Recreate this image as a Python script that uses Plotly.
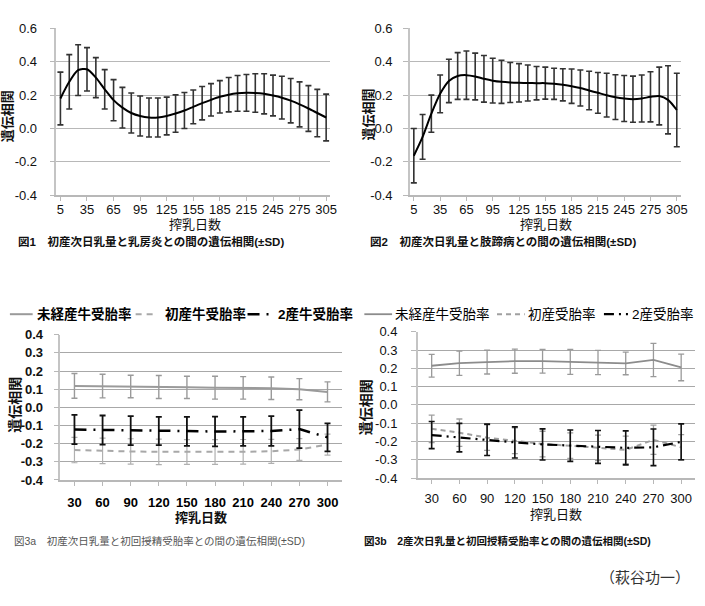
import plotly.graph_objects as go

W, H = 705, 606
FONT = "Liberation Sans, Arial, Noto Sans CJK JP"

# ---- data ----
days_a = [5, 15, 25, 35, 45, 55, 65, 75, 85, 95, 105, 115, 125, 135, 145, 155,
          165, 175, 185, 195, 205, 215, 225, 235, 245, 255, 265, 275, 285, 295, 305]
days_a_ticks = [5, 35, 65, 95, 125, 155, 185, 215, 245, 275, 305]

mastitis_r = [0.18, 0.28, 0.35, 0.355, 0.305, 0.235, 0.17, 0.125, 0.093, 0.075, 0.066,
              0.066, 0.075, 0.09, 0.108, 0.13, 0.152, 0.172, 0.19, 0.203, 0.211, 0.214,
              0.213, 0.208, 0.198, 0.185, 0.167, 0.145, 0.12, 0.093, 0.066]
mastitis_sd = [0.158, 0.163, 0.152, 0.13, 0.12, 0.118, 0.123, 0.122, 0.12, 0.12, 0.117,
               0.117, 0.113, 0.112, 0.108, 0.101, 0.1, 0.097, 0.097, 0.103, 0.107, 0.11,
               0.115, 0.12, 0.122, 0.128, 0.133, 0.135, 0.137, 0.142, 0.14]

hoof_r = [-0.163, -0.05, 0.089, 0.208, 0.285, 0.315, 0.32, 0.312, 0.298, 0.287, 0.28,
          0.276, 0.274, 0.273, 0.272, 0.272, 0.268, 0.262, 0.254, 0.243, 0.228, 0.214,
          0.2, 0.188, 0.18, 0.176, 0.18, 0.19, 0.195, 0.172, 0.111]
hoof_sd = [0.163, 0.134, 0.111, 0.113, 0.13, 0.14, 0.145, 0.14, 0.14, 0.134, 0.129,
           0.12, 0.115, 0.108, 0.1, 0.096, 0.093, 0.096, 0.103, 0.108, 0.115, 0.122,
           0.131, 0.134, 0.138, 0.138, 0.141, 0.15, 0.173, 0.204, 0.22]

days_b = [30, 60, 90, 120, 150, 180, 210, 240, 270, 300]

# fig 3a: first-lactation daily milk vs conception rates
f3a_heifer = [0.118, 0.117, 0.115, 0.112, 0.11, 0.108, 0.107, 0.105, 0.1, 0.085]
f3a_heifer_sd = [0.068, 0.065, 0.062, 0.063, 0.061, 0.063, 0.062, 0.062, 0.058, 0.055]
f3a_first = [-0.235, -0.24, -0.243, -0.245, -0.246, -0.246, -0.245, -0.242, -0.232, -0.205]
f3a_first_sd = [0.07, 0.07, 0.07, 0.07, 0.068, 0.068, 0.068, 0.066, 0.06, 0.058]
f3a_second = [-0.122, -0.125, -0.128, -0.13, -0.132, -0.133, -0.132, -0.13, -0.12, -0.165]
f3a_second_sd = [0.08, 0.08, 0.08, 0.078, 0.08, 0.082, 0.08, 0.082, 0.105, 0.077]

# fig 3b: second-lactation daily milk vs conception rates
f3b_heifer = [0.214, 0.228, 0.234, 0.239, 0.239, 0.235, 0.232, 0.227, 0.246, 0.205]
f3b_heifer_sd = [0.062, 0.066, 0.065, 0.066, 0.065, 0.068, 0.066, 0.062, 0.091, 0.073]
f3b_first = [-0.131, -0.152, -0.179, -0.196, -0.214, -0.223, -0.235, -0.246, -0.191, -0.232]
f3b_first_sd = [0.075, 0.075, 0.07, 0.07, 0.07, 0.07, 0.07, 0.075, 0.08, 0.07]
f3b_second = [-0.165, -0.179, -0.191, -0.205, -0.216, -0.223, -0.23, -0.235, -0.232, -0.202]
f3b_second_sd = [0.074, 0.078, 0.086, 0.085, 0.085, 0.086, 0.09, 0.093, 0.1, 0.098]

yt_top = [-0.4, -0.2, 0.0, 0.2, 0.4, 0.6]
yt_top_text = ["-0.4", "-0.2", "0.0", "0.2", "0.4", "0.6"]
yt_bot = [-0.4, -0.3, -0.2, -0.1, 0.0, 0.1, 0.2, 0.3, 0.4]
yt_bot_text = ["-0.4", "-0.3", "-0.2", "-0.1", "0.0", "0.1", "0.2", "0.3", "0.4"]


def fx(px):
    return px / W


def fy(py):
    return 1 - py / H


GRID = "#b8b8b8"
GRID_B = "#a8a8a8"
fig = go.Figure()

# panel 1 and 2
for xa, ya, yv, sd in [("x", "y", mastitis_r, mastitis_sd), ("x2", "y2", hoof_r, hoof_sd)]:
    fig.add_trace(go.Scatter(
        x=days_a, y=yv, xaxis=xa, yaxis=ya, mode="lines", showlegend=False,
        line=dict(color="black", width=2, shape="spline", smoothing=0.8),
        error_y=dict(type="data", array=sd, color="#333333", thickness=1.6, width=3),
    ))

# styles for the conception-rate series (3a, 3b)
sty_3a = [
    ("未経産牛受胎率", dict(color="#9a9a9a", width=2), "#9a9a9a", 1.4),
    ("初産牛受胎率", dict(color="#a8a8a8", width=2, dash="6px,5px"), "#b0b0b0", 1.2),
    ("2産牛受胎率", dict(color="black", width=2.5, dash="12px,7px,2px,7px"), "#111111", 1.8),
]
sty_3b = [
    ("未経産牛受胎率", dict(color="#8c8c8c", width=1.8), "#9a9a9a", 1.3),
    ("初産受胎率", dict(color="#a0a0a0", width=2, dash="5px,4px"), "#a0a0a0", 1.3),
    ("2産受胎率", dict(color="black", width=2.2, dash="10px,5px,2px,5px,2px,5px"), "#111111", 1.6),
]

for (name, ln, ec, et), yv, sd in zip(sty_3a, [f3a_heifer, f3a_first, f3a_second],
                                      [f3a_heifer_sd, f3a_first_sd, f3a_second_sd]):
    fig.add_trace(go.Scatter(
        x=days_b, y=yv, xaxis="x3", yaxis="y3", mode="lines", name=name, showlegend=False,
        line=ln, error_y=dict(type="data", array=sd, color=ec, thickness=et, width=3),
    ))

for (name, ln, ec, et), yv, sd in zip(sty_3b, [f3b_heifer, f3b_first, f3b_second],
                                      [f3b_heifer_sd, f3b_first_sd, f3b_second_sd]):
    fig.add_trace(go.Scatter(
        x=days_b, y=yv, xaxis="x4", yaxis="y4", mode="lines", name=name, showlegend=False,
        line=ln, error_y=dict(type="data", array=sd, color=ec, thickness=et, width=3),
    ))

tickfont = dict(family=FONT, size=13, color="#111111")
bold_font = dict(family=FONT, size=13, color="#000000")


def yaxis(dom, anchor, vals, text, rng, standoff, grid=GRID):
    return dict(domain=dom, anchor=anchor, range=rng, tickvals=vals, ticktext=text,
                showgrid=True, gridcolor=grid, gridwidth=1, zeroline=False,
                showline=True, linecolor="#c4c4c4", linewidth=1.5,
                ticks="outside", ticklen=5, tickcolor=GRID, tickfont=tickfont,
                ticklabelstandoff=standoff)


def xaxis(dom, anchor, vals, rng, standoff, font=tickfont, text=None):
    d = dict(domain=dom, anchor=anchor, range=rng, tickvals=vals,
             showgrid=False, zeroline=False, showline=True, linecolor=GRID, linewidth=1.5,
             ticks="outside", ticklen=4, tickcolor=GRID, tickfont=font,
             ticklabelstandoff=standoff)
    if text:
        d["ticktext"] = text
    return d


fig.update_layout(
    width=W, height=H, margin=dict(l=0, r=0, t=0, b=0),
    paper_bgcolor="white", plot_bgcolor="white", showlegend=False,
    font=dict(family=FONT, size=13, color="#111111"),
    xaxis=xaxis([fx(57), fx(333)], "y", days_a_ticks, [0.5, 309], -3),
    yaxis=yaxis([fy(193), fy(22)], "x", yt_top, yt_top_text, [-0.4, 0.6], 10),
    xaxis2=xaxis([fx(414), fx(688)], "y2", days_a_ticks, [0.5, 310], -3),
    yaxis2=yaxis([fy(193), fy(22)], "x2", yt_top, yt_top_text, [-0.4, 0.6], 8),
    xaxis3=xaxis([fx(61), fx(345)], "y3", days_b, [15, 315], 6, bold_font,
                 ["<b>%d</b>" % d for d in days_b]),
    yaxis3=yaxis([fy(485), fy(336)], "x3", yt_bot, ["<b>%s</b>" % t for t in yt_bot_text],
                 [-0.4, 0.4], 8, GRID_B),
    xaxis4=xaxis([fx(422), fx(702)], "y4", days_b, [15, 315], 4),
    yaxis4=yaxis([fy(483), fy(333)], "x4", yt_bot, yt_bot_text, [-0.4, 0.4], 11, GRID_B),
)

ann = []
shapes = []


def note(x, y, text, size=12, angle=0, color="#111111", xanchor="center"):
    ann.append(dict(x=fx(x), y=fy(y), xref="paper", yref="paper", text=text,
                    showarrow=False, textangle=angle, xanchor=xanchor, yanchor="middle",
                    font=dict(family=FONT, size=size, color=color)))


# hand-placed legends (tight spacing like the original)
def legend_row(items, y, size, bold):
    for (x0, x1, tx), (name, ln, _, _) in items:
        shapes.append(dict(type="line", xref="paper", yref="paper",
                           x0=fx(x0), x1=fx(x1), y0=fy(y), y1=fy(y),
                           line=dict(color=ln["color"], width=ln["width"],
                                     dash=ln.get("dash", "solid"))))
        note(tx, y, "<b>%s</b>" % name if bold else name, size, color="#000000",
             xanchor="left")


legend_row(zip([(10, 33, 35), (137, 156, 165), (250, 277, 279)], sty_3a), 315, 13.5, True)
legend_row(zip([(368, 396, 397), (502, 530, 531), (610, 635, 636)], sty_3b), 315, 13.5, False)

note(197, 223, "搾乳日数", 13)
note(551, 223, "搾乳日数", 13)
note(7, 112, "<b>遺伝相関</b>", 13, -90)
note(372, 110, "<b>遺伝相関</b>", 13, -90)
note(16, 240, "<b>図1　初産次日乳量と乳房炎との間の遺伝相関(±SD)</b>", 11.5, xanchor="left")
note(372, 240, "<b>図2　初産次日乳量と肢蹄病との間の遺伝相関(±SD)</b>", 11.5, xanchor="left")

note(203, 523, "<b>搾乳日数</b>", 13)
note(562, 520, "搾乳日数", 13)
note(15, 408, "<b>遺伝相関</b>", 14, -90)
note(370, 410, "<b>遺伝相関</b>", 14, -90)
note(12, 548, "図3a　初産次日乳量と初回授精受胎率との間の遺伝相関(±SD)", 10.5,
     color="#555555", xanchor="left")
note(366, 548, "<b>図3b　2産次日乳量と初回授精受胎率との間の遺伝相関(±SD)</b>", 10.5,
     xanchor="left")
note(651, 585, "（萩谷功一）", 15, color="#333333")

fig.update_layout(annotations=ann, shapes=shapes)
fig.write_html("out.html", config={"displayModeBar": False},
               post_script="document.body.style.margin='0';")
